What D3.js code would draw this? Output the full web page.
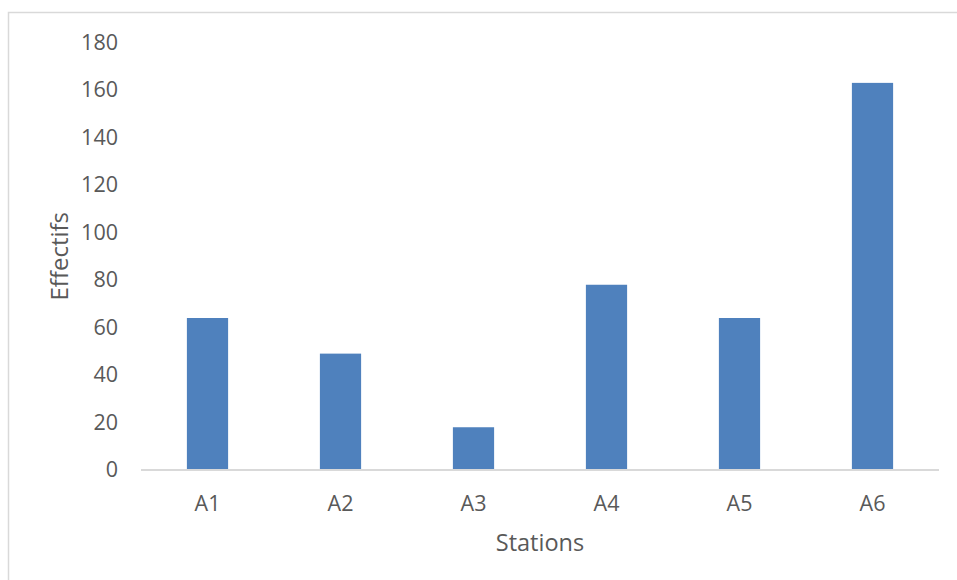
<!DOCTYPE html>
<html><head><meta charset="utf-8">
<script src="https://cdn.jsdelivr.net/npm/d3@7"></script>
<style>
html,body{margin:0;padding:0;background:#fff;}
svg{display:block;}
text{font-family:"Open Sans",Calibri,Carlito,sans-serif;fill:#595959;}
</style></head>
<body>
<svg id="chart" width="957" height="580"></svg>
<script>
const categories = ["A1","A2","A3","A4","A5","A6"];
const values = [64, 49, 18, 78, 64, 163];
const yTicks = [0,20,40,60,80,100,120,140,160,180];
const xTitle = "Stations";
const yTitle = "Effectifs";

const svg = d3.select("#chart");
const W = 957, H = 580;
const plot = {left:141, right:939, top:42.5, bottom:470};

// outer frame
svg.append("rect").attr("x",8.5).attr("y",12.5).attr("width",W+10).attr("height",H+10)
  .attr("fill","#fff").attr("stroke","#d9d9d9").attr("stroke-width",1.5);

const x = d3.scaleBand().domain(categories).range([plot.left, plot.right])
  .paddingInner(0.69).paddingOuter(0.345);
const y = d3.scaleLinear().domain([0,180]).range([plot.bottom, plot.top]);

// bars
svg.append("g").selectAll("rect").data(values).join("rect")
  .attr("x",(d,i)=>x(categories[i]))
  .attr("width",x.bandwidth())
  .attr("y",d=>y(d))
  .attr("height",d=>y(0)-y(d))
  .attr("fill","#4f81bd");

// y axis labels
const yAxis = d3.axisLeft(y).tickValues(yTicks).tickSize(0).tickPadding(23);
const gy = svg.append("g").attr("transform",`translate(${plot.left},0)`).call(yAxis);
gy.select(".domain").remove();
gy.selectAll("text").attr("font-size",21.5).style("fill","#595959")
  .attr("font-family","'Open Sans',Calibri,sans-serif");

// x axis
const xAxis = d3.axisBottom(x).tickSize(0).tickPadding(26);
const gx = svg.append("g").attr("transform",`translate(0,${plot.bottom})`).call(xAxis);
gx.select(".domain").attr("stroke","#d9d9d9").attr("stroke-width",2)
  .attr("d",`M${plot.left},0H${plot.right}`);
gx.selectAll("text").attr("font-size",21.5).style("fill","#595959")
  .attr("font-family","'Open Sans',Calibri,sans-serif");

// titles
svg.append("text").attr("x",(plot.left+plot.right)/2).attr("y",542)
  .attr("text-anchor","middle").attr("dominant-baseline","central")
  .attr("font-size",23.5).text(xTitle);
svg.append("text").attr("transform",`translate(58,${(plot.top+plot.bottom)/2}) rotate(-90)`)
  .attr("text-anchor","middle").attr("dominant-baseline","central")
  .attr("font-size",24).text(yTitle);
</script>
</body></html>
